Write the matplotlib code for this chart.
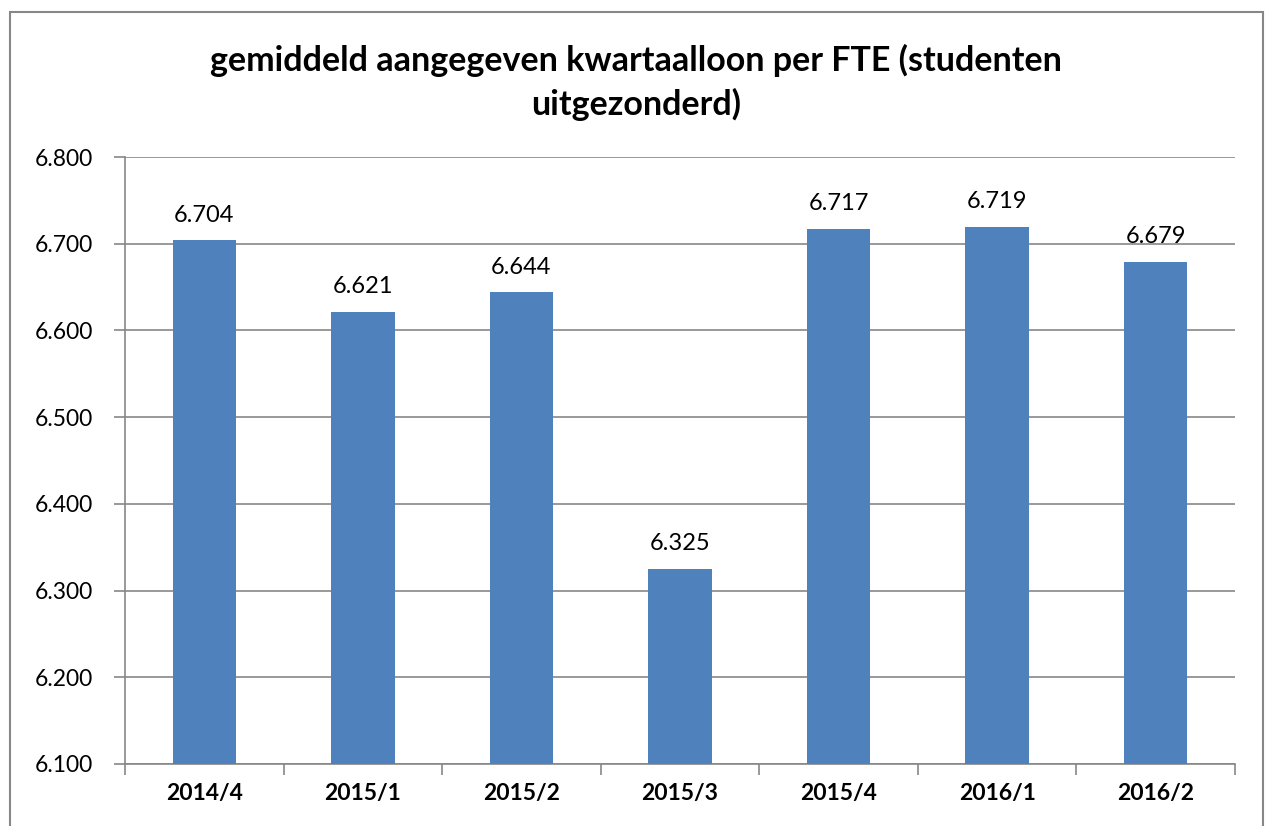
import matplotlib.pyplot as plt
from matplotlib.patches import Rectangle
from matplotlib.ticker import FuncFormatter

quarters = ["2014/4", "2015/1", "2015/2", "2015/3", "2015/4", "2016/1", "2016/2"]
loon = [6704, 6621, 6644, 6325, 6717, 6719, 6679]
y_ticks = [6100, 6200, 6300, 6400, 6500, 6600, 6700, 6800]

plt.rcParams["font.family"] = ["Lato", "DejaVu Sans"]


def nl_thousands(v, pos=None):
    # Dutch style: dot as thousands separator
    return f"{int(round(v)):,}".replace(",", ".")


fig = plt.figure(figsize=(12.69, 8.26), dpi=100)
ax = fig.add_axes([125 / 1269, 1 - 764 / 826, (1235 - 125) / 1269, (764 - 157) / 826])

# chart frame
fig.patches.append(Rectangle((10 / 1269, -0.05), (1263 - 10) / 1269, 1.05 - 12 / 826,
                             transform=fig.transFigure, fill=False,
                             edgecolor="#878787", linewidth=1.5))

x = range(len(quarters))
ax.bar(x, loon, width=0.4, color="#4f81bd", zorder=3)
for i, v in enumerate(loon):
    ax.text(i, v + 17, nl_thousands(v), ha="center", va="bottom", fontsize=17)

ax.set_ylim(6100, 6800)
ax.set_xlim(-0.5, len(quarters) - 0.5)
ax.set_yticks(y_ticks)
ax.yaxis.set_major_formatter(FuncFormatter(nl_thousands))
ax.set_xticks(list(x))
ax.set_xticklabels(quarters, fontsize=16.5, fontweight="bold")
ax.set_xticks([i - 0.5 for i in range(len(quarters) + 1)], minor=True)
ax.tick_params(axis="x", which="major", length=0, pad=14)
ax.tick_params(axis="x", which="minor", length=8, color="#878787", width=1.2)
ax.tick_params(axis="y", labelsize=16.5, length=8, color="#878787", width=1.2, pad=15)
ax.grid(axis="y", color="#878787", linewidth=1.2, zorder=0)
for s in ["top", "right"]:
    ax.spines[s].set_visible(False)
for s in ["left", "bottom"]:
    ax.spines[s].set_color("#878787")
    ax.spines[s].set_linewidth(1.2)

fig.text(636 / 1269, 1 - 82 / 826, "gemiddeld aangegeven kwartaalloon per FTE (studenten\nuitgezonderd)",
         ha="center", va="center", fontsize=24.5, fontweight="bold", linespacing=1.4)

fig.savefig("out.png", dpi=100)
